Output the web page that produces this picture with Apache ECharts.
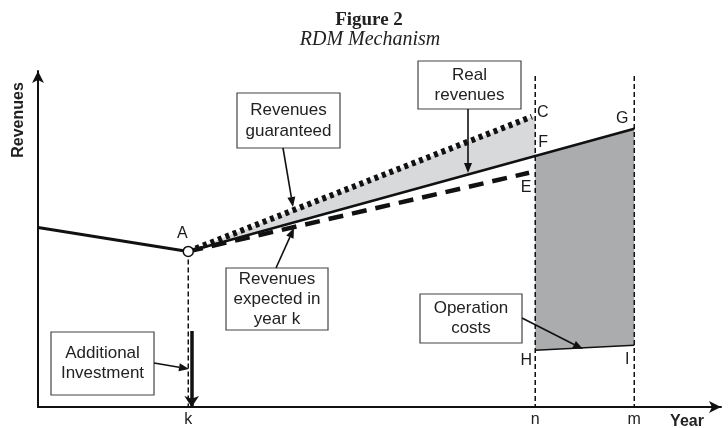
<!DOCTYPE html>
<html>
<head>
<meta charset="utf-8">
<script src="https://cdn.jsdelivr.net/npm/echarts@6/dist/echarts.min.js"></script>
<style>html,body{margin:0;padding:0;background:#fff;}#c{width:728px;height:428px;}</style>
</head>
<body>
<div id="c"></div>
<script>
// ---- data (conceptual units: year 0..100, revenue 0..100) ----
const tickYears = [22.0, 72.8, 87.3];
const tickLabels = ['k', 'n', 'm'];
const revenuesBefore = [[0, 53.4], [22.0, 46.3]];
const realRevenues = [[22.0, 46.3], [72.8, 74.7], [87.3, 82.8]];
const guaranteedRevenues = [[22.0, 46.3], [72.3, 86.4]];
const expectedRevenues = [[22.0, 46.3], [71.9, 69.7]];
const operationCosts = [[72.8, 16.9], [87.3, 18.4]];
const investment = [[22.5, 22.6], [22.5, 0]];
const guaranteeZone = [[22.0, 46.3], [72.3, 86.4], [72.8, 86.4], [72.8, 74.7]];
const operationZone = [[72.8, 74.7], [87.3, 82.8], [87.3, 18.4], [72.8, 16.9]];
const verticalK = [[22.0, 46.3], [22.0, 0]];
const verticalN = [[72.8, 98.5], [72.8, 0]];
const verticalM = [[87.3, 98.5], [87.3, 0]];
const pointNames = ['A', 'C', 'E', 'F', 'G', 'H', 'I'];
const pointValues = [[22.0, 46.3], [72.3, 86.4], [71.9, 69.7], [72.8, 74.7], [87.3, 82.8], [72.8, 16.9], [87.3, 18.4]];
// label offsets (styling)
const pointOffsets = {A: [-6, -18], C: [11, -4], E: [-3, 15], F: [8, -13], G: [-12, -10], H: [-9, 10], I: [-7, 14]};

const chart = echarts.init(document.getElementById('c'), null, {renderer: 'canvas'});

function arrow(x1, y1, x2, y2, w, hl, hw) {
  const dx = x2 - x1, dy = y2 - y1, L = Math.hypot(dx, dy), ux = dx / L, uy = dy / L;
  const bx = x2 - ux * hl, by = y2 - uy * hl;
  return [
    {type: 'line', z: 100, shape: {x1, y1, x2: bx, y2: by}, style: {stroke: '#111', lineWidth: w}},
    {type: 'polygon', z: 100, shape: {points: [[x2, y2], [bx - uy * hw / 2, by + ux * hw / 2], [bx + uy * hw / 2, by - ux * hw / 2]]}, style: {fill: '#111'}}
  ];
}
function box(x, y, w, h, text, lh) {
  return [
    {type: 'rect', z: 100, shape: {x, y, width: w, height: h}, style: {fill: '#fff', stroke: '#444', lineWidth: 1.2}},
    {type: 'text', z: 101, x: x + w / 2, y: y + h / 2, style: {text, font: '17px "Liberation Sans", Arial, sans-serif', fill: '#222', align: 'center', verticalAlign: 'middle', lineHeight: lh}}
  ];
}

function polygonSeries(pts, color) {
  return {
    type: 'custom', z: 1, silent: true, data: [[0, 0]],
    renderItem: (params, api) => ({
      type: 'polygon',
      shape: {points: pts.map(p => api.coord(p))},
      style: {fill: color}
    })
  };
}
function lineSeries(data, width, type, z) {
  return {type: 'line', data, symbol: 'none', silent: true, z: z || 3,
    lineStyle: {color: '#111', width, type, cap: 'butt', opacity: 1}};
}

const graphics = [].concat(
  [{type: 'text', x: 369, y: 20, style: {text: 'Figure 2', font: 'bold 19px "Liberation Serif", serif', fill: '#222', align: 'center', verticalAlign: 'middle'}},
   {type: 'text', x: 370, y: 40, style: {text: 'RDM Mechanism', font: 'italic 20px "Liberation Serif", serif', fill: '#222', align: 'center', verticalAlign: 'middle'}},
   {type: 'text', x: 19, y: 120, rotation: Math.PI / 2, style: {text: 'Revenues', font: 'bold 16px "Liberation Sans", Arial, sans-serif', fill: '#222', align: 'center', verticalAlign: 'middle'}},
   {type: 'text', x: 687, y: 422, style: {text: 'Year', font: 'bold 16px "Liberation Sans", Arial, sans-serif', fill: '#222', align: 'center', verticalAlign: 'middle'}}],
  box(237, 93, 103, 55, 'Revenues\nguaranteed', 21),
  box(418, 61, 103, 48, 'Real\nrevenues', 20),
  box(226, 268, 102, 62, 'Revenues\nexpected in\nyear k', 20),
  box(51, 332, 103, 63, 'Additional\nInvestment', 20),
  box(420, 294, 102, 49, 'Operation\ncosts', 20),
  arrow(283, 148, 293, 207, 1.6, 10, 8),
  arrow(468, 109, 468, 173, 1.6, 10, 8),
  arrow(276, 268, 294, 228, 1.6, 10, 8),
  arrow(154, 363, 189, 369, 1.6, 10, 8),
  arrow(522, 318, 583, 349, 1.6, 10, 8)
);

chart.setOption({
  animation: false,
  backgroundColor: '#fff',
  grid: {left: 38, right: 7, top: 71, bottom: 20, containLabel: false},
  xAxis: {
    type: 'value', min: 0, max: 100,
    axisLine: {show: true, lineStyle: {color: '#111', width: 2}, symbol: ['none', 'arrow'], symbolSize: [9, 12]},
    axisTick: {show: false},
    splitLine: {show: false},
    axisLabel: {
      customValues: tickYears, margin: 5, color: '#222', fontSize: 16, fontFamily: 'Liberation Sans',
      formatter: v => { const i = tickYears.indexOf(v); return i >= 0 ? tickLabels[i] : ''; }
    }
  },
  yAxis: {
    type: 'value', min: 0, max: 100,
    axisLine: {show: true, lineStyle: {color: '#111', width: 2}, symbol: ['none', 'arrow'], symbolSize: [9, 12]},
    axisTick: {show: false}, splitLine: {show: false}, axisLabel: {show: false}
  },
  graphic: graphics,
  series: [
    polygonSeries(guaranteeZone, '#d8d9db'),
    polygonSeries(operationZone, '#abacae'),
    lineSeries(verticalK, 1.5, [5, 3], 2),
    lineSeries(verticalN, 1.5, [5, 3], 2),
    lineSeries(verticalM, 1.5, [5, 3], 2),
    lineSeries(revenuesBefore, 3),
    lineSeries(realRevenues, 2.5),
    lineSeries(guaranteedRevenues, 6, [4, 4]),
    lineSeries(expectedRevenues, 4.5, [15, 9]),
    lineSeries(operationCosts, 1.5),
    {type: 'lines', coordinateSystem: 'cartesian2d', polyline: false, silent: true, z: 4,
     symbol: ['none', 'arrow'], symbolSize: 11,
     lineStyle: {color: '#111', width: 3.5, opacity: 1},
     data: [{coords: investment}]},
    {type: 'scatter', z: 6, silent: true, symbolSize: 10,
     itemStyle: {color: '#fff', borderColor: '#111', borderWidth: 1.5, opacity: 1},
     data: [pointValues[0]]},
    {type: 'scatter', z: 7, silent: true, symbolSize: 1,
     itemStyle: {opacity: 0},
     data: pointNames.map((n, i) => ({value: pointValues[i], name: n,
       label: {show: true, position: 'inside', offset: pointOffsets[n], formatter: n,
         fontSize: 16, color: '#1a1a1a', opacity: 1, fontFamily: 'Liberation Sans', textBorderWidth: 0}}))}
  ]
});
</script>
</body>
</html>
